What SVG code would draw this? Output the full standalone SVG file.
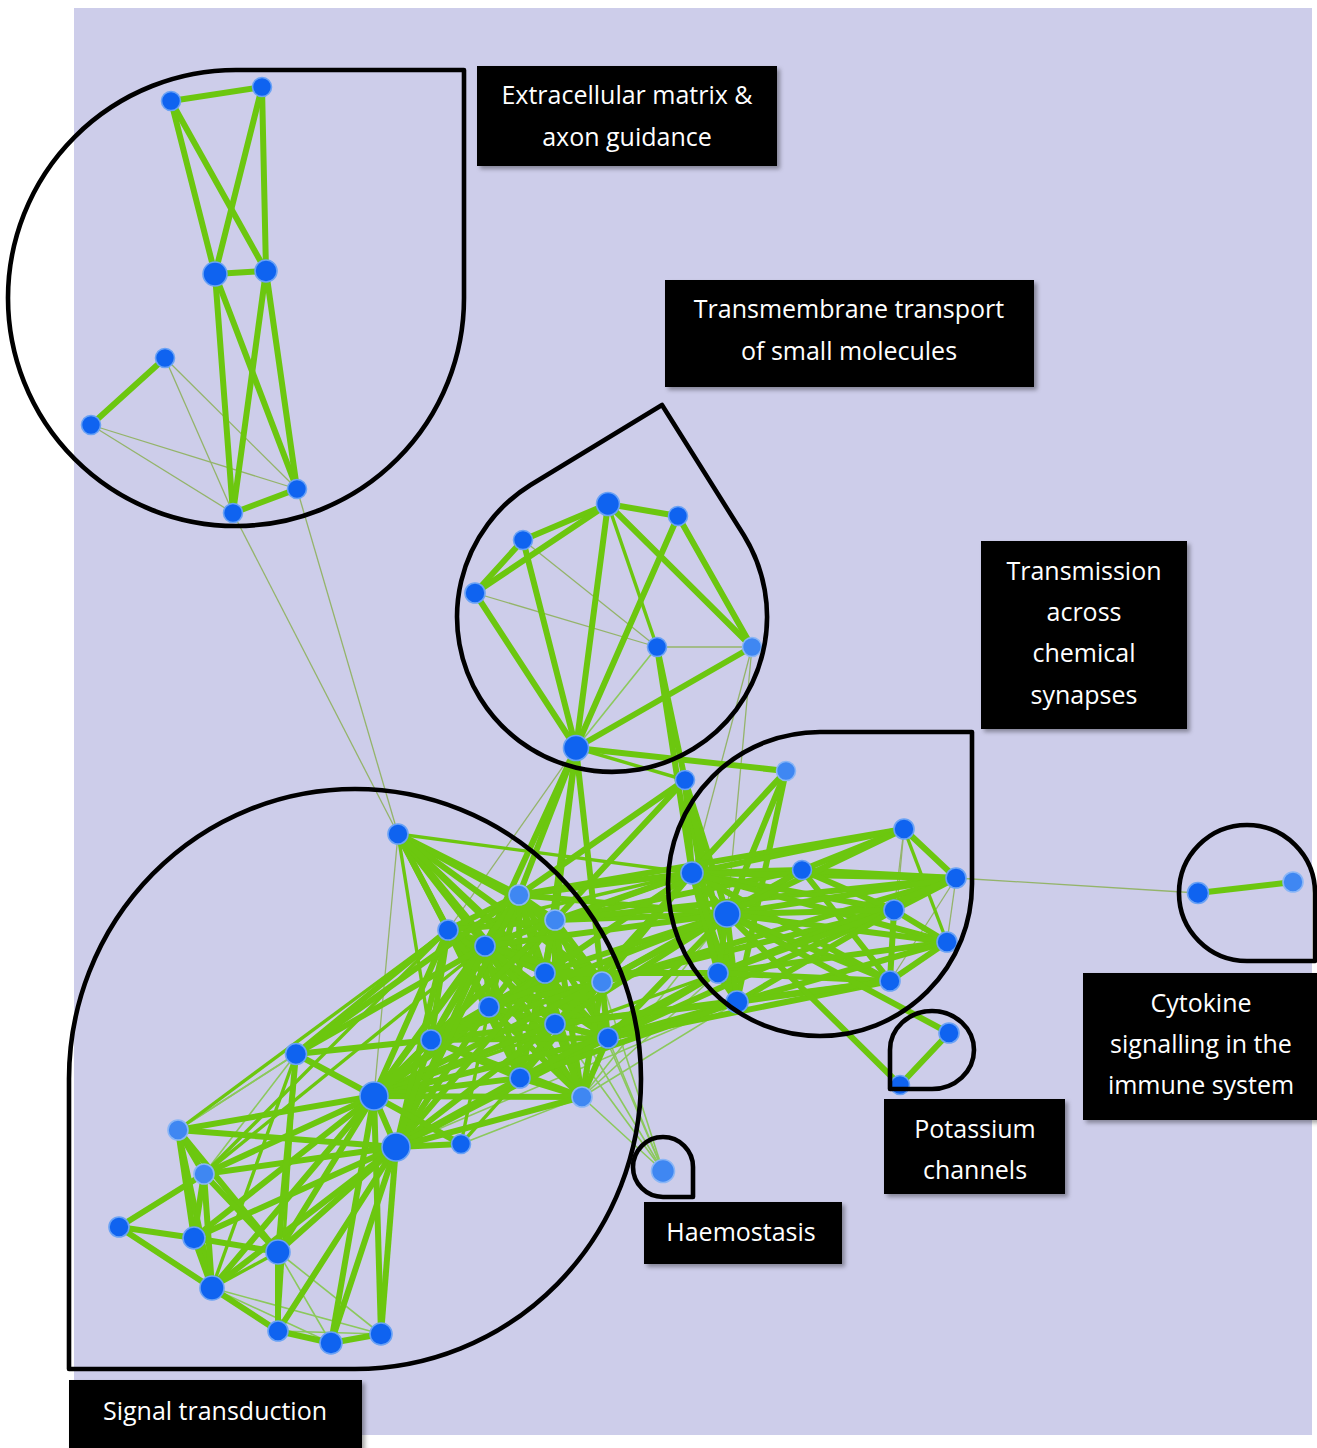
<svg xmlns="http://www.w3.org/2000/svg" width="1317" height="1448" viewBox="0 0 1317 1448">
<defs>
<style>
.bg{fill:#cdcdea}
.e{stroke:#6cc70f;stroke-width:6;fill:none;stroke-linecap:round}
.m{stroke:#6cc70f;stroke-width:3.4;fill:none}
.t{stroke:#94b46a;stroke-width:1.3;fill:none}
.tg{stroke:#7cc83a;stroke-width:1.6;fill:none;opacity:.8}
.n{fill:#0f63f0;stroke:#6aa2f5;stroke-width:1.6}
.nl{fill:#3f87f2;stroke:#8ab6f6;stroke-width:1.6}
.hull{fill:none;stroke:#000;stroke-width:4.6;stroke-linejoin:round}
.lb{fill:#000;filter:url(#sh)}
.lt{fill:#fff;font-family:"Open Sans","Noto Sans",sans-serif;font-size:25px;text-anchor:middle}
</style>
<filter id="sh" x="-10%" y="-10%" width="130%" height="140%">
<feDropShadow dx="3" dy="3" stdDeviation="2" flood-color="#000" flood-opacity="0.35"/>
</filter>
</defs>

<rect class="bg" x="74" y="8" width="1238" height="1427"/>

<!-- connectors -->
<g id="connectors">
<!-- weak links -->
<g class="t">
<path d="M165 358L233 513"/><path d="M165 358L297 489"/><path d="M91 425L233 513"/><path d="M91 425L297 489"/>
<path d="M233 513L398 834"/><path d="M297 489L398 834"/>
<path d="M523 540L657 647"/><path d="M475 593L657 647"/><path d="M657 647L752 647"/>
<path d="M752 647L692 873"/><path d="M752 647L727 914"/><path d="M576 748L448 930"/>
<path d="M398 834L374 1096"/>
<path d="M956 878L1198 893"/>
<path d="M904 829L890 981"/><path d="M904 829L894 910"/><path d="M956 878L947 942"/><path d="M956 878L890 981"/>
</g>
<g class="tg">
<path d="M663 1171L582 1097"/><path d="M663 1171L608 1038"/><path d="M663 1171L555 1024"/><path d="M663 1171L602 982"/><path d="M663 1171L555 920"/><path d="M663 1171L545 973"/>
<path d="M582 1097L737 1002"/><path d="M582 1097L718 973"/><path d="M582 1097L727 914"/>
<path d="M374 1096L737 1002"/><path d="M396 1147L737 1002"/><path d="M396 1147L718 973"/>
<path d="M296 1054L178 1130"/><path d="M296 1054L204 1174"/><path d="M296 1054L461 1144"/>
<path d="M296 1054L374 1096"/><path d="M576 748L657 647"/>
<path d="M278 1252L331 1343"/><path d="M278 1252L381 1334"/><path d="M212 1288L331 1343"/><path d="M212 1288L381 1334"/><path d="M278 1331L381 1334"/>
<path d="M178 1130L296 1054"/><path d="M461 1144L582 1097"/>
</g>
<!-- medium links -->
<g class="m">
<path d="M576 748L685 780"/><path d="M608 504L657 647"/>
<path d="M398 834L431 1040"/><path d="M398 834L692 873"/>
<path d="M178 1130L448 930"/><path d="M204 1174L448 930"/><path d="M204 1174L485 946"/>
<path d="M461 1144L489 1007"/><path d="M461 1144L520 1078"/>
<path d="M448 930L692 873"/><path d="M374 1096L718 973"/>
<path d="M278 1252L212 1288"/><path d="M296 1054L278 1331"/><path d="M296 1054L212 1288"/>
<path d="M904 829L947 942"/>
</g>
<!-- strong links -->
<g class="e">
<!-- extracellular matrix -->
<path d="M171 101L262 87"/><path d="M171 101L215 274"/><path d="M171 101L266 271"/><path d="M262 87L215 274"/><path d="M262 87L266 271"/>
<path d="M215 274L266 271"/><path d="M215 274L233 513"/><path d="M215 274L297 489"/><path d="M266 271L233 513"/><path d="M266 271L297 489"/>
<path d="M233 513L297 489"/><path d="M165 358L91 425"/>
<!-- transmembrane transport -->
<path d="M608 504L678 516"/><path d="M608 504L523 540"/><path d="M608 504L475 593"/><path d="M523 540L475 593"/>
<path d="M608 504L576 748"/><path d="M608 504L752 647"/><path d="M678 516L576 748"/><path d="M678 516L752 647"/>
<path d="M523 540L576 748"/><path d="M475 593L576 748"/><path d="M752 647L576 748"/>
<path d="M657 647L685 780"/><path d="M657 647L692 873"/><path d="M576 748L786 771"/>
<path d="M576 748L519 895"/><path d="M576 748L555 920"/><path d="M576 748L485 946"/><path d="M576 748L602 982"/><path d="M576 748L545 973"/>
<path d="M685 780L519 895"/><path d="M685 780L555 920"/><path d="M685 780L692 873"/><path d="M685 780L727 914"/><path d="M685 780L718 973"/><path d="M685 780L737 1002"/>
<path d="M786 771L692 873"/><path d="M786 771L727 914"/><path d="M786 771L737 1002"/>
<!-- signal transduction hub fan -->
<path d="M398 834L519 895"/><path d="M398 834L555 920"/><path d="M398 834L448 930"/><path d="M398 834L485 946"/><path d="M398 834L545 973"/>
<path d="M398 834L602 982"/><path d="M398 834L489 1007"/><path d="M398 834L555 1024"/><path d="M398 834L608 1038"/>
<!-- signal transduction core -->
<path d="M519 895L555 920"/><path d="M519 895L448 930"/><path d="M519 895L485 946"/><path d="M519 895L545 973"/><path d="M519 895L602 982"/><path d="M519 895L489 1007"/><path d="M519 895L555 1024"/><path d="M519 895L431 1040"/><path d="M519 895L608 1038"/><path d="M519 895L520 1078"/><path d="M519 895L582 1097"/>
<path d="M555 920L448 930"/><path d="M555 920L485 946"/><path d="M555 920L545 973"/><path d="M555 920L602 982"/><path d="M555 920L489 1007"/><path d="M555 920L555 1024"/><path d="M555 920L431 1040"/><path d="M555 920L608 1038"/><path d="M555 920L520 1078"/><path d="M555 920L582 1097"/>
<path d="M448 930L485 946"/><path d="M448 930L545 973"/><path d="M448 930L602 982"/><path d="M448 930L489 1007"/><path d="M448 930L555 1024"/><path d="M448 930L431 1040"/><path d="M448 930L608 1038"/><path d="M448 930L520 1078"/><path d="M448 930L582 1097"/>
<path d="M485 946L545 973"/><path d="M485 946L602 982"/><path d="M485 946L489 1007"/><path d="M485 946L555 1024"/><path d="M485 946L431 1040"/><path d="M485 946L608 1038"/><path d="M485 946L520 1078"/><path d="M485 946L582 1097"/>
<path d="M545 973L602 982"/><path d="M545 973L489 1007"/><path d="M545 973L555 1024"/><path d="M545 973L431 1040"/><path d="M545 973L608 1038"/><path d="M545 973L520 1078"/><path d="M545 973L582 1097"/>
<path d="M602 982L489 1007"/><path d="M602 982L555 1024"/><path d="M602 982L431 1040"/><path d="M602 982L608 1038"/><path d="M602 982L520 1078"/><path d="M602 982L582 1097"/>
<path d="M489 1007L555 1024"/><path d="M489 1007L431 1040"/><path d="M489 1007L608 1038"/><path d="M489 1007L520 1078"/><path d="M489 1007L582 1097"/>
<path d="M555 1024L431 1040"/><path d="M555 1024L608 1038"/><path d="M555 1024L520 1078"/><path d="M555 1024L582 1097"/>
<path d="M431 1040L608 1038"/><path d="M431 1040L520 1078"/><path d="M431 1040L582 1097"/>
<path d="M608 1038L520 1078"/><path d="M608 1038L582 1097"/><path d="M520 1078L582 1097"/>
<!-- signal transduction left hubs -->
<path d="M374 1096L519 895"/><path d="M374 1096L555 920"/><path d="M374 1096L448 930"/><path d="M374 1096L485 946"/><path d="M374 1096L545 973"/><path d="M374 1096L602 982"/>
<path d="M374 1096L489 1007"/><path d="M374 1096L555 1024"/><path d="M374 1096L431 1040"/><path d="M374 1096L608 1038"/><path d="M374 1096L520 1078"/><path d="M374 1096L582 1097"/>
<path d="M396 1147L519 895"/><path d="M396 1147L448 930"/><path d="M396 1147L485 946"/><path d="M396 1147L545 973"/><path d="M396 1147L489 1007"/><path d="M396 1147L555 1024"/>
<path d="M396 1147L431 1040"/><path d="M396 1147L608 1038"/><path d="M396 1147L520 1078"/><path d="M396 1147L582 1097"/>
<path d="M296 1054L448 930"/><path d="M296 1054L485 946"/><path d="M296 1054L431 1040"/><path d="M296 1054L519 895"/>
<path d="M461 1144L374 1096"/><path d="M461 1144L396 1147"/>
<path d="M374 1096L396 1147"/><path d="M374 1096L296 1054"/>
<path d="M374 1096L178 1130"/><path d="M374 1096L204 1174"/><path d="M374 1096L194 1238"/><path d="M374 1096L278 1252"/><path d="M374 1096L212 1288"/><path d="M374 1096L331 1343"/><path d="M374 1096L381 1334"/>
<path d="M396 1147L178 1130"/><path d="M396 1147L204 1174"/><path d="M396 1147L194 1238"/><path d="M396 1147L278 1252"/><path d="M396 1147L212 1288"/><path d="M396 1147L278 1331"/><path d="M396 1147L331 1343"/><path d="M396 1147L381 1334"/>
<path d="M296 1054L278 1252"/>
<path d="M178 1130L204 1174"/><path d="M178 1130L194 1238"/><path d="M178 1130L212 1288"/><path d="M178 1130L278 1252"/>
<path d="M204 1174L119 1227"/><path d="M204 1174L278 1252"/><path d="M204 1174L212 1288"/><path d="M204 1174L194 1238"/>
<path d="M119 1227L194 1238"/><path d="M119 1227L212 1288"/>
<path d="M194 1238L278 1252"/><path d="M194 1238L212 1288"/>
<path d="M278 1252L278 1331"/><path d="M212 1288L278 1331"/><path d="M278 1331L331 1343"/><path d="M331 1343L381 1334"/>
<!-- signal transduction to synaptic transmission -->
<path d="M519 895L692 873"/><path d="M555 920L692 873"/><path d="M555 920L727 914"/><path d="M602 982L692 873"/><path d="M602 982L727 914"/>
<path d="M545 973L727 914"/><path d="M555 1024L727 914"/><path d="M608 1038L727 914"/><path d="M608 1038L718 973"/><path d="M608 1038L737 1002"/>
<path d="M519 895L727 914"/><path d="M555 920L802 870"/><path d="M602 982L802 870"/><path d="M555 1024L692 873"/><path d="M545 973L692 873"/>
<path d="M485 946L692 873"/><path d="M519 895L904 829"/><path d="M555 920L956 878"/><path d="M602 982L956 878"/><path d="M602 982L894 910"/>
<path d="M608 1038L894 910"/><path d="M555 1024L890 981"/><path d="M608 1038L890 981"/><path d="M520 1078L737 1002"/><path d="M489 1007L727 914"/>
<path d="M555 1024L737 1002"/><path d="M545 973L718 973"/><path d="M485 946L727 914"/><path d="M520 1078L718 973"/>
<!-- synaptic transmission -->
<path d="M692 873L802 870"/><path d="M692 873L904 829"/><path d="M692 873L956 878"/><path d="M692 873L727 914"/><path d="M692 873L894 910"/>
<path d="M692 873L718 973"/><path d="M692 873L890 981"/><path d="M692 873L737 1002"/><path d="M692 873L947 942"/>
<path d="M802 870L904 829"/><path d="M802 870L956 878"/><path d="M802 870L727 914"/><path d="M802 870L894 910"/><path d="M802 870L890 981"/>
<path d="M904 829L956 878"/><path d="M904 829L727 914"/><path d="M956 878L727 914"/><path d="M956 878L894 910"/><path d="M956 878L718 973"/>
<path d="M727 914L894 910"/><path d="M727 914L947 942"/><path d="M727 914L718 973"/><path d="M727 914L890 981"/><path d="M727 914L737 1002"/>
<path d="M894 910L947 942"/><path d="M894 910L718 973"/><path d="M894 910L737 1002"/><path d="M894 910L890 981"/>
<path d="M947 942L718 973"/><path d="M947 942L737 1002"/><path d="M947 942L890 981"/>
<path d="M718 973L890 981"/><path d="M718 973L737 1002"/><path d="M890 981L737 1002"/>
<!-- potassium channels and cytokine signalling -->
<path d="M727 914L949 1033"/><path d="M727 914L900 1085"/><path d="M949 1033L900 1085"/>
<path d="M1198 893L1293 882"/>
</g>
</g>

<!-- nodes -->
<g id="nodes">
<g id="a1"><circle class="n" cx="171" cy="101" r="9.5"/></g>
<g id="a2"><circle class="n" cx="262" cy="87" r="9.5"/></g>
<g id="a3"><circle class="n" cx="215" cy="274" r="12"/></g>
<g id="a4"><circle class="n" cx="266" cy="271" r="11"/></g>
<g id="a5"><circle class="n" cx="165" cy="358" r="9.5"/></g>
<g id="a6"><circle class="n" cx="91" cy="425" r="9.5"/></g>
<g id="a7"><circle class="n" cx="233" cy="513" r="9.5"/></g>
<g id="a8"><circle class="n" cx="297" cy="489" r="9.5"/></g>
<g id="t1"><circle class="n" cx="608" cy="504" r="11.5"/></g>
<g id="t2"><circle class="n" cx="678" cy="516" r="9.5"/></g>
<g id="t3"><circle class="n" cx="523" cy="540" r="9.5"/></g>
<g id="t4"><circle class="n" cx="475" cy="593" r="10"/></g>
<g id="t5"><circle class="n" cx="657" cy="647" r="9.5"/></g>
<g id="t6"><circle class="nl" cx="752" cy="647" r="9.5"/></g>
<g id="t7"><circle class="n" cx="576" cy="748" r="12.5"/></g>
<g id="t8"><circle class="n" cx="685" cy="780" r="9.5"/></g>
<g id="r0"><circle class="nl" cx="786" cy="771" r="9.5"/></g>
<g id="r1"><circle class="n" cx="692" cy="873" r="11"/></g>
<g id="r2"><circle class="n" cx="802" cy="870" r="9.5"/></g>
<g id="r3"><circle class="n" cx="904" cy="829" r="10"/></g>
<g id="r4"><circle class="n" cx="956" cy="878" r="10"/></g>
<g id="r5"><circle class="n" cx="727" cy="914" r="13"/></g>
<g id="r6"><circle class="n" cx="894" cy="910" r="10"/></g>
<g id="r7"><circle class="n" cx="947" cy="942" r="10"/></g>
<g id="r8"><circle class="n" cx="718" cy="973" r="10"/></g>
<g id="r9"><circle class="n" cx="890" cy="981" r="10"/></g>
<g id="r10"><circle class="n" cx="737" cy="1002" r="11"/></g>
<g id="p1"><circle class="n" cx="949" cy="1033" r="10"/></g>
<g id="p2"><circle class="n" cx="900" cy="1085" r="9.5"/></g>
<g id="c1"><circle class="n" cx="1198" cy="893" r="10.5"/></g>
<g id="c2"><circle class="nl" cx="1293" cy="882" r="10"/></g>
<g id="h1"><circle class="nl" cx="663" cy="1171" r="11.5"/></g>
<g id="s1"><circle class="n" cx="398" cy="834" r="10"/></g>
<g id="s2"><circle class="nl" cx="519" cy="895" r="10"/></g>
<g id="s3"><circle class="nl" cx="555" cy="920" r="10"/></g>
<g id="s4"><circle class="n" cx="448" cy="930" r="10"/></g>
<g id="s5"><circle class="n" cx="485" cy="946" r="10"/></g>
<g id="s6"><circle class="n" cx="545" cy="973" r="10"/></g>
<g id="s7"><circle class="nl" cx="602" cy="982" r="10"/></g>
<g id="s8"><circle class="n" cx="489" cy="1007" r="10"/></g>
<g id="s9"><circle class="n" cx="555" cy="1024" r="10"/></g>
<g id="s10"><circle class="n" cx="431" cy="1040" r="10"/></g>
<g id="s11"><circle class="n" cx="608" cy="1038" r="10"/></g>
<g id="s12"><circle class="n" cx="520" cy="1078" r="10"/></g>
<g id="s13"><circle class="nl" cx="582" cy="1097" r="10"/></g>
<g id="s14"><circle class="n" cx="374" cy="1096" r="14"/></g>
<g id="s15"><circle class="n" cx="296" cy="1054" r="10.5"/></g>
<g id="s16"><circle class="n" cx="396" cy="1147" r="14"/></g>
<g id="s17"><circle class="nl" cx="178" cy="1130" r="10"/></g>
<g id="s18"><circle class="nl" cx="204" cy="1174" r="10"/></g>
<g id="s19"><circle class="n" cx="119" cy="1227" r="10"/></g>
<g id="s20"><circle class="n" cx="194" cy="1238" r="11"/></g>
<g id="s21"><circle class="n" cx="278" cy="1252" r="12"/></g>
<g id="s22"><circle class="n" cx="212" cy="1288" r="12"/></g>
<g id="s23"><circle class="n" cx="278" cy="1331" r="10"/></g>
<g id="s24"><circle class="n" cx="331" cy="1343" r="11"/></g>
<g id="s25"><circle class="n" cx="381" cy="1334" r="11"/></g>
<g id="s26"><circle class="n" cx="461" cy="1144" r="9.5"/></g>
</g>

<!-- module outlines -->
<g id="outlines">
<path id="hull-ecm" class="hull" d="M236 70L464 70L464 298A228 228 0 1 1 236 70Z"/>
<path id="hull-transport" class="hull" d="M662 405L744 535.5A155 155 0 1 1 530.5 485Z"/>
<path id="hull-synapse" class="hull" d="M820 732L972 732L972 884A152 152 0 1 1 820 732Z"/>
<path id="hull-signal" class="hull" d="M355 1369L69 1369L69 1079A286 290 0 1 1 355 1369Z"/>
<path id="hull-cytokine" class="hull" d="M1315 893L1315 961L1247 961A68 68 0 1 1 1315 893Z"/>
<path id="hull-potassium" class="hull" d="M932 1089L890 1089L890 1050A42 39 0 1 1 932 1089Z"/>
<path id="hull-haemostasis" class="hull" d="M693 1167L693 1197L663 1197A30 30 0 1 1 693 1167Z"/>
</g>

<!-- module labels -->
<g id="label-ecm"><rect class="lb" x="477" y="66" width="300" height="100"/>
<text class="lt" x="627" y="104">Extracellular matrix &amp;</text><text class="lt" x="627" y="146">axon guidance</text></g>
<g id="label-transport"><rect class="lb" x="665" y="280" width="369" height="107"/>
<text class="lt" x="849" y="318">Transmembrane transport</text><text class="lt" x="849" y="360">of small molecules</text></g>
<g id="label-synapse"><rect class="lb" x="981" y="541" width="206" height="188"/>
<text class="lt" x="1084" y="580">Transmission</text><text class="lt" x="1084" y="621">across</text><text class="lt" x="1084" y="662">chemical</text><text class="lt" x="1084" y="704">synapses</text></g>
<g id="label-cytokine"><rect class="lb" x="1083" y="973" width="236" height="147"/>
<text class="lt" x="1201" y="1012">Cytokine</text><text class="lt" x="1201" y="1053">signalling in the</text><text class="lt" x="1201" y="1094">immune system</text></g>
<g id="label-potassium"><rect class="lb" x="884" y="1099" width="181" height="95"/>
<text class="lt" x="975" y="1138">Potassium</text><text class="lt" x="975" y="1179">channels</text></g>
<g id="label-haemostasis"><rect class="lb" x="644" y="1202" width="198" height="62"/>
<text class="lt" x="741" y="1241">Haemostasis</text></g>
<g id="label-signal"><rect class="lb" x="69" y="1380" width="293" height="70"/>
<text class="lt" x="215" y="1420">Signal transduction</text></g>
</svg>
